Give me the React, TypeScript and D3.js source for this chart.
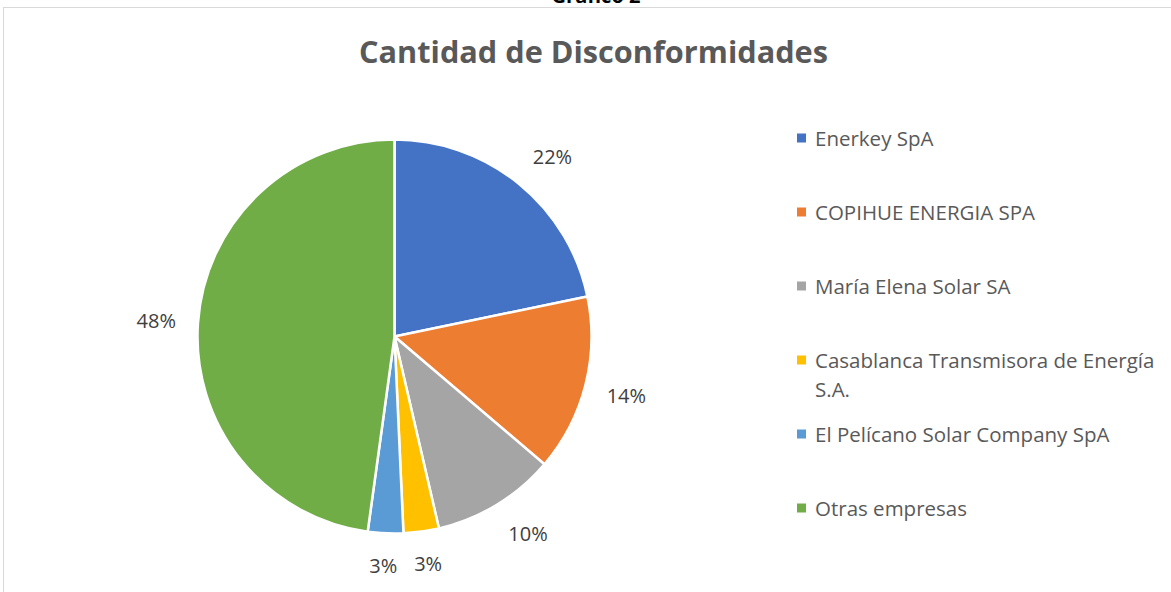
import React, { useEffect, useRef } from 'react';
import * as d3 from 'd3';

// data (counts, shown as % of total)
const companies = [
  'Enerkey SpA',
  'COPIHUE ENERGIA SPA',
  'María Elena Solar SA',
  'Casablanca Transmisora de Energía S.A.',
  'El Pelícano Solar Company SpA',
  'Otras empresas',
];
const counts = [15, 10, 7, 2, 2, 33];
const colors = ['#4472C4', '#ED7D31', '#A5A5A5', '#FFC000', '#5B9BD5', '#70AD47'];

const chartTitle = 'Cantidad de Disconformidades';
const pageTitle = 'Gráfico 2';

const W = 1171;
const H = 592;
const FONT = "'Open Sans', 'Noto Sans', sans-serif";

function App() {
  const ref = useRef<SVGSVGElement>(null);

  useEffect(() => {
    drawChart();
  }, []);

  function drawChart() {
    const svg = d3.select(ref.current);
    svg.selectAll('*').remove();

    // outer frame of the chart area
    svg.append('rect')
      .attr('x', 3.5).attr('y', 7.5)
      .attr('width', W + 20).attr('height', H + 20)
      .attr('fill', '#fff')
      .attr('stroke', '#d9d9d9')
      .attr('stroke-width', 1);

    svg.append('text')
      .attr('x', 596).attr('y', 3)
      .attr('text-anchor', 'middle')
      .attr('font-family', FONT)
      .attr('font-weight', 'bold')
      .attr('font-size', 20)
      .attr('fill', '#000')
      .text(pageTitle);

    svg.append('text')
      .attr('x', 359).attr('y', 63)
      .attr('font-family', FONT)
      .attr('font-weight', 'bold')
      .attr('font-size', 31)
      .attr('fill', '#595959')
      .attr('textLength', 469)
      .attr('lengthAdjust', 'spacingAndGlyphs')
      .text(chartTitle);

    const cx = 394.5, cy = 336.5, r = 197;
    const total = d3.sum(counts);
    const fmt = d3.format('.0%');

    const pie = d3.pie<number>().sort(null).value(d => d);
    const arcs = pie(counts);
    const arc = d3.arc<d3.PieArcDatum<number>>().innerRadius(0).outerRadius(r);

    const g = svg.append('g').attr('transform', `translate(${cx},${cy})`);

    g.selectAll('path')
      .data(arcs)
      .join('path')
      .attr('d', arc)
      .attr('fill', (d, i) => colors[i])
      .attr('stroke', '#fff')
      .attr('stroke-width', 2.5)
      .attr('stroke-linejoin', 'round');

    // labels outside the slices, box edge pushed off the rim
    const hh = 10;
    const clamp = (v: number) => Math.max(-1, Math.min(1, v * 2));
    g.selectAll('text.lbl')
      .data(arcs)
      .join('text')
      .attr('class', 'lbl')
      .attr('font-family', FONT)
      .attr('font-size', 20)
      .attr('fill', '#404040')
      .attr('text-anchor', 'middle')
      .attr('dominant-baseline', 'central')
      .text(d => fmt(d.value / total))
      .each(function (d) {
        const t = d3.select(this);
        const hw = (this as SVGTextElement).getComputedTextLength() / 2;
        const a = (d.startAngle + d.endAngle) / 2;
        const s = Math.sin(a), c = Math.cos(a);
        const R = r + 22;
        t.attr('x', R * s + hw * clamp(s)).attr('y', -R * c - hh * clamp(c));
      });

    // legend
    const legend = svg.append('g').attr('transform', 'translate(797,138)');
    const y = d3.scalePoint<string>().domain(companies).range([0, 370]);
    const maxW = 352;

    companies.forEach((name, i) => {
      const row = legend.append('g').attr('transform', `translate(0,${y(name)})`);
      row.append('rect')
        .attr('x', 0).attr('y', -4.5)
        .attr('width', 9).attr('height', 9)
        .attr('fill', colors[i]);
      const text = row.append('text')
        .attr('x', 18).attr('y', 0)
        .attr('font-family', FONT)
        .attr('font-size', 20.5)
        .attr('fill', '#595959')
        .attr('dominant-baseline', 'central');
      // word wrap
      const words = name.split(' ');
      let line: string[] = [];
      let tspan = text.append('tspan').attr('x', 18).attr('dy', 0);
      words.forEach(w => {
        line.push(w);
        tspan.text(line.join(' '));
        if ((tspan.node() as SVGTSpanElement).getComputedTextLength() > maxW && line.length > 1) {
          line.pop();
          tspan.text(line.join(' '));
          line = [w];
          tspan = text.append('tspan').attr('x', 18).attr('dy', 29).text(w);
        }
      });
    });
  }

  return (
    <svg
      ref={ref}
      width={W}
      height={H}
      style={{ position: 'absolute', left: 0, top: 0, background: '#fff' }}
    />
  );
}

export default App;
